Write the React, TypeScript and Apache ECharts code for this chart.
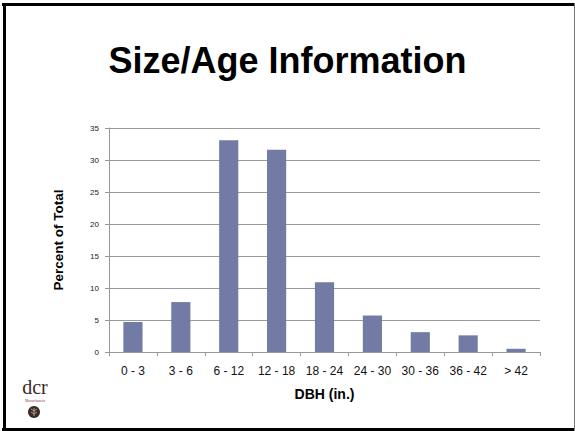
import React, { useEffect, useRef } from "react";
import * as echarts from "echarts";

const categories = ["0 - 3", "3 - 6", "6 - 12", "12 - 18", "18 - 24", "24 - 30", "30 - 36", "36 - 42", "> 42"];
const percentOfTotal = [4.7, 7.8, 33.1, 31.6, 10.9, 5.7, 3.1, 2.6, 0.5];
const yTicks = { min: 0, max: 35, interval: 5 };
const titleText = "Size/Age Information";
const xAxisName = "DBH (in.)";
const yAxisName = "Percent of Total";

export default function App() {
  const ref = useRef<HTMLDivElement>(null);
  useEffect(() => {
    document.body.style.margin = "0";
    const chart = echarts.init(ref.current!, null, { renderer: "svg" });
    const gridColor = "#999999";
    chart.setOption({
      animation: false,
      backgroundColor: "#ffffff",
      grid: { left: 109, right: 35, top: 128, bottom: 79, containLabel: false },
      xAxis: {
        type: "category",
        data: categories,
        boundaryGap: true,
        axisLine: { show: true, lineStyle: { color: gridColor, width: 1 } },
        axisTick: { show: true, length: 4, alignWithLabel: false, lineStyle: { color: gridColor } },
        axisLabel: { fontSize: 12, color: "#111", margin: 13, fontFamily: "Liberation Sans", interval: 0 },
        name: xAxisName,
        nameLocation: "middle",
        nameGap: 35,
        nameTextStyle: { fontSize: 14, fontWeight: "bold", color: "#000", fontFamily: "Liberation Sans" },
      },
      yAxis: {
        type: "value",
        min: yTicks.min,
        max: yTicks.max,
        interval: yTicks.interval,
        axisLine: { show: true, lineStyle: { color: gridColor, width: 1 } },
        axisTick: { show: true, length: 4, lineStyle: { color: gridColor } },
        splitLine: { show: true, lineStyle: { color: gridColor, width: 1 } },
        axisLabel: { fontSize: 8, color: "#222", margin: 10, fontFamily: "Liberation Sans" },
        name: yAxisName,
        nameLocation: "middle",
        nameGap: 44,
        nameTextStyle: { fontSize: 13.5, fontWeight: "bold", color: "#000", fontFamily: "Liberation Sans" },
      },
      series: [
        {
          type: "bar",
          data: percentOfTotal,
          barWidth: "40%",
          itemStyle: { color: "#717BA3" },
        },
      ],
      graphic: [
        {
          type: "text",
          left: "center",
          top: 42,
          style: { text: titleText, font: "bold 36px 'Liberation Sans'", fill: "#000" },
        },
        { type: "line", shape: { x1: 2, y1: 4.5, x2: 575, y2: 4.5 }, style: { stroke: "#000", lineWidth: 3 } },
        { type: "line", shape: { x1: 4.5, y1: 3, x2: 4.5, y2: 431 }, style: { stroke: "#000", lineWidth: 3 } },
        { type: "line", shape: { x1: 2, y1: 429.5, x2: 575, y2: 429.5 }, style: { stroke: "#000", lineWidth: 3 } },
        { type: "line", shape: { x1: 574.5, y1: 3, x2: 574.5, y2: 431 }, style: { stroke: "#777", lineWidth: 1 } },
        {
          type: "text",
          x: 35,
          y: 397,
          style: { text: "dcr", font: "20px 'Liberation Serif'", fill: "#3a2a22", align: "center", verticalAlign: "bottom" },
        },
        {
          type: "text",
          x: 35,
          y: 401,
          style: { text: "Massachusetts", font: "3.5px 'Liberation Serif'", fill: "#8a3a30", align: "center", verticalAlign: "middle" },
        },
        { type: "circle", shape: { cx: 34, cy: 412, r: 6 }, style: { fill: "#3b2a26" } },
        { type: "line", shape: { x1: 34, y1: 408, x2: 34, y2: 416 }, style: { stroke: "#c9b79a", lineWidth: 0.8 } },
        { type: "polyline", shape: { points: [[31, 409], [34, 411], [37, 409]] }, style: { stroke: "#c9b79a", lineWidth: 0.8, fill: "none" } },
        { type: "polyline", shape: { points: [[31, 412], [34, 414], [37, 412]] }, style: { stroke: "#c9b79a", lineWidth: 0.8, fill: "none" } },
      ],
    });
    return () => chart.dispose();
  }, []);
  return <div ref={ref} style={{ width: 575, height: 431 }} />;
}
